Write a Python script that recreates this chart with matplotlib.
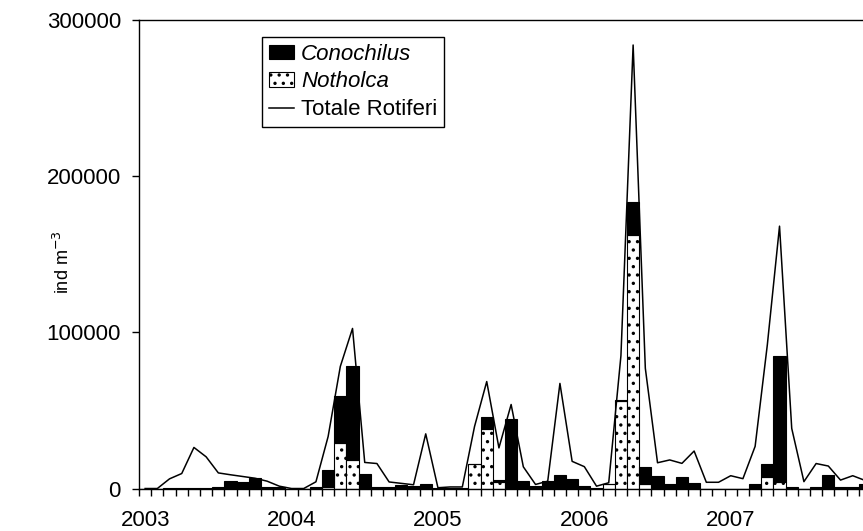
import numpy as np
import matplotlib
matplotlib.use("Agg")
import matplotlib.pyplot as plt

plt.rcParams['font.family'] = ['Liberation Sans', 'DejaVu Sans']
plt.rcParams['hatch.linewidth'] = 1.2
plt.rcParams['hatch.color'] = '#444444'

# monthly samples, Jan 2003 - Dec 2007
anni = ['2003', '2004', '2005', '2006', '2007']

notholca = [0, 0, 0, 0, 0, 0, 0, 0, 0, 0, 0, 0,
            0, 0, 0, 800, 29000, 18400, 0, 0, 0, 0, 0, 0,
            0, 0, 0, 15400, 37900, 3900, 0, 0, 0, 0, 0, 0,
            0, 0, 2700, 56300, 162300, 2700, 0, 0, 0, 0, 0, 0,
            0, 0, 0, 7100, 4200, 0, 0, 0, 0, 0, 0, 0]

conochilus = [0, 0, 300, 300, 300, 300, 1000, 4700, 4100, 6600, 1000, 700,
              0, 0, 900, 11100, 30000, 59800, 9200, 1000, 1200, 2000, 1500, 3000,
              300, 300, 300, 300, 7700, 1300, 44500, 4800, 1400, 4800, 8900, 6200,
              1600, 500, 0, 600, 21200, 11300, 8000, 2900, 7100, 3500, 0, 0,
              0, 0, 3000, 8900, 80400, 1000, 0, 700, 8800, 700, 1000, 2700]

totale = [0, 0, 6200, 9600, 26300, 20300, 10000, 8800, 7700, 6600, 4700, 1500,
          0, 0, 4300, 33300, 78200, 102500, 16700, 16000, 4200, 3300, 2400, 35000,
          500, 1000, 1000, 39700, 68500, 26000, 53800, 13900, 2600, 4700, 67300, 17400,
          14000, 1500, 3700, 85000, 284000, 77000, 16500, 18300, 16100, 24000, 4000, 4000,
          8200, 6300, 27000, 92000, 168000, 38500, 4400, 16000, 14400, 5400, 8200, 5200]

x = np.arange(len(totale))

fig = plt.figure(figsize=(8.63, 5.31), dpi=100)
ax = fig.add_axes([0.1611, 0.0800, 0.8482, 0.8823])

b_not = ax.bar(x, notholca, width=1.0, color='white', edgecolor='black', linewidth=0.8,
               hatch='..', zorder=2)
b_con = ax.bar(x, conochilus, width=1.0, bottom=notholca, color='black', edgecolor='black',
               linewidth=0.8, zorder=2)
l_tot, = ax.plot(x, totale, color='black', linewidth=1.1, zorder=3)

ax.set_xlim(-0.5, len(totale) - 0.5)
ax.set_ylim(0, 300000)

# tick marks between months, year labels centred on January
ax.set_xticks(np.arange(len(totale) + 1) - 0.5)
ax.set_xticklabels([])
ax.set_xticks(np.arange(0, len(totale), 12), minor=True)
ax.set_xticklabels(anni, minor=True)
ax.tick_params(axis='x', which='major', direction='out', length=5, width=1)
ax.tick_params(axis='x', which='minor', length=0, pad=15.5, labelsize=16)

ax.set_yticks([0, 100000, 200000, 300000])
ax.set_yticklabels(['0', '100000', '200000', '300000'])
ax.tick_params(axis='y', direction='out', length=5, width=1, pad=8, labelsize=16)

for s in ax.spines.values():
    s.set_linewidth(1.0)

ax.set_ylabel('ind m$^{-3}$', fontsize=13)
ax.yaxis.set_label_coords(-0.09, 0.483)

leg = ax.legend([b_con, b_not, l_tot], ['Conochilus', 'Notholca', 'Totale Rotiferi'],
                loc='upper left', bbox_to_anchor=(0.3036, 0.9303),
                bbox_transform=fig.transFigure, fontsize=16, frameon=True,
                fancybox=False, edgecolor='black', framealpha=1,
                handlelength=1.15, handleheight=0.6, handletextpad=0.3,
                labelspacing=0.3, borderpad=0.3, borderaxespad=0)
leg.get_frame().set_linewidth(1.0)
leg.get_texts()[0].set_style('italic')
leg.get_texts()[1].set_style('italic')

fig.savefig('out.png', dpi=100)
